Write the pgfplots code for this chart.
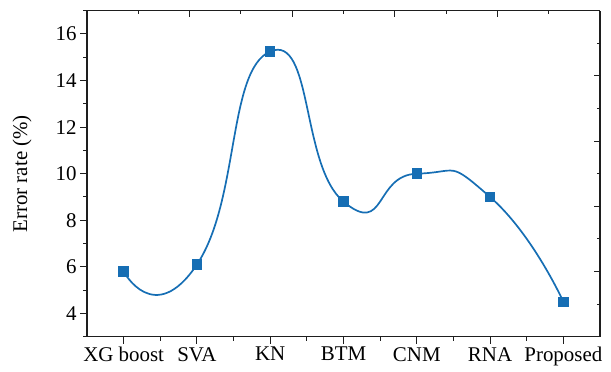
\documentclass[border=0pt]{standalone}
\usepackage{pgfplots}
\pgfplotsset{compat=1.18}
\usepackage{fontspec}
\setmainfont{Liberation Serif}
\definecolor{lc}{RGB}{22,110,180}
\definecolor{ax}{RGB}{30,30,30}
\begin{document}
\begin{tikzpicture}
\begin{axis}[
 name=main,
 scale only axis, width=513bp, height=326bp,
 xmin=-0.5, xmax=6.5, ymin=3, ymax=17,
 axis x line*=bottom, axis y line*=left,
 axis line style={line width=1.1bp, ax, -},
 xtick={0,...,6}, xticklabels={XG boost,SVA,KN,BTM,CNM,RNA,Proposed},
 minor xtick={0.5,1.5,...,5.5},
 ytick={4,6,...,16}, minor ytick={3,5,...,17},
 tick align=outside,
 major tick length=7bp, minor tick length=4bp,
 tick style={line width=1bp, ax},
 every tick label/.append style={font=\fontsize{21}{24}\selectfont},
 ylabel={Error rate (\%)}, label style={font=\fontsize{21}{24}\selectfont},
 ylabel style={at={(rel axis cs:0,0.5)}, anchor=center, yshift=65bp},
 /pgf/number format/assume math mode=true,
 clip=false,
]
\addplot[lc, line width=1.7bp, smooth, tension=1.05, mark=square*, mark size=4.4bp, mark options={solid}] coordinates {(0,5.8)(1,6.1)(2,15.25)(3,8.8)(4,10.0)(5,9.0)(6,4.5)};
\end{axis}
\begin{axis}[
 scale only axis, width=513bp, height=326bp,
 xmin=0, xmax=1, ymin=0, ymax=1,
 axis x line*=top, axis y line*=right,
 axis line style={line width=1.1bp, ax, -},
 xtick={0.2,0.4,0.6,0.8}, minor xtick={0.1,0.3,0.5,0.7,0.9},
 ytick={0.2,0.4,0.6,0.8}, minor ytick={0.1,0.3,0.5,0.7,0.9},
 xticklabels={}, yticklabels={},
 tick align=inside,
 major tick length=6bp, minor tick length=3.5bp,
 tick style={line width=1bp, ax},
]
\end{axis}
\pgfresetboundingbox
\path (main.south west) ++(-87bp,-34.3bp) rectangle ([shift={(11bp,10.7bp)}]main.north east);
\end{tikzpicture}
\end{document}
